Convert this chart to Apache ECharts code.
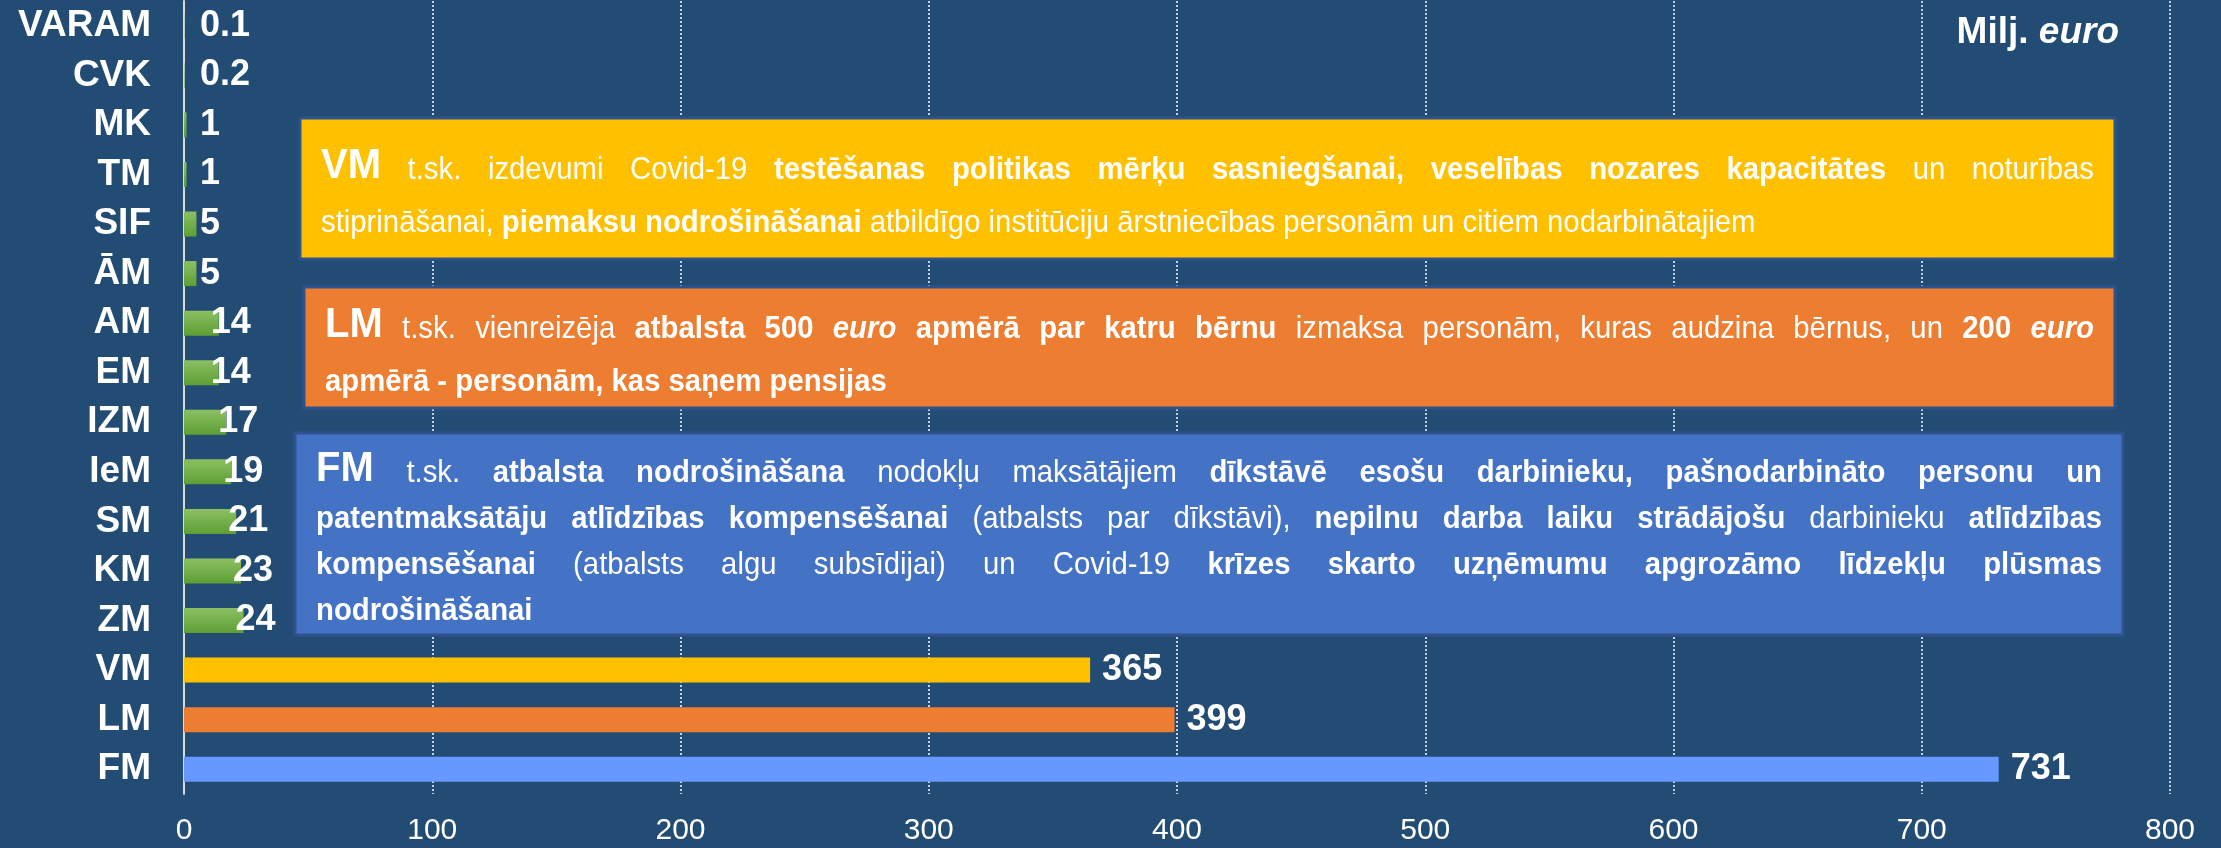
<!DOCTYPE html>
<html>
<head>
<meta charset="utf-8">
<script src="https://cdn.jsdelivr.net/npm/echarts@6/dist/echarts.min.js"></script>
<style>
html, body { margin: 0; padding: 0; background: #224C74; }
#chart { width: 2221px; height: 848px; }
</style>
</head>
<body>
<div id="chart"></div>
<script>
// ministrijas un summas, milj. euro
const categories = ['VARAM', 'CVK', 'MK', 'TM', 'SIF', 'ĀM', 'AM', 'EM', 'IZM', 'IeM', 'SM', 'KM', 'ZM', 'VM', 'LM', 'FM'];
const values = [0.1, 0.2, 1, 1, 5, 5, 14, 14, 17, 19, 21, 23, 24, 365, 399, 731];
const mainMinistries = ['VM', 'LM', 'FM'];
const xMin = 0, xMax = 800, xStep = 100;

// paskaidrojumu teksti: [stils, teksts]
const vmNote = [
  [['h', 'VM'], ['n', ' t.sk. izdevumi Covid-19 '], ['b', 'testēšanas politikas mērķu sasniegšanai, veselības nozares kapacitātes'], ['n', ' un noturības']],
  [['n', 'stiprināšanai, '], ['b', 'piemaksu nodrošināšanai'], ['n', ' atbildīgo institūciju ārstniecības personām un citiem nodarbinātajiem']]
];
const lmNote = [
  [['h', 'LM'], ['n', ' t.sk. vienreizēja '], ['b', 'atbalsta 500 '], ['bi', 'euro'], ['b', ' apmērā par katru bērnu'], ['n', ' izmaksa personām, kuras audzina bērnus, un '], ['b', '200 '], ['bi', 'euro']],
  [['b', 'apmērā - personām, kas saņem pensijas']]
];
const fmNote = [
  [['h', 'FM'], ['n', ' t.sk. '], ['b', 'atbalsta nodrošināšana'], ['n', ' nodokļu maksātājiem '], ['b', 'dīkstāvē esošu darbinieku, pašnodarbināto personu un']],
  [['b', 'patentmaksātāju atlīdzības kompensēšanai'], ['n', ' (atbalsts par dīkstāvi), '], ['b', 'nepilnu darba laiku strādājošu'], ['n', ' darbinieku '], ['b', 'atlīdzības']],
  [['b', 'kompensēšanai'], ['n', ' (atbalsts algu subsīdijai) un Covid-19 '], ['b', 'krīzes skarto uzņēmumu apgrozāmo līdzekļu plūsmas']],
  [['b', 'nodrošināšanai']]
];

const FONT = '"Liberation Sans", Arial, sans-serif';
const bodySize = 31.5, headSize = 43;
const squeeze = 0.93; // teksts kastēs ir nedaudz sašaurināts
const fonts = {
  h: 'bold ' + headSize + 'px ' + FONT,
  n: bodySize + 'px ' + FONT,
  b: 'bold ' + bodySize + 'px ' + FONT,
  bi: 'italic bold ' + bodySize + 'px ' + FONT
};

const barColors = { VM: '#FFC000', LM: '#ED7D31', FM: '#6699FF' };
const greenBar = new echarts.graphic.LinearGradient(0, 0, 0, 1, [
  { offset: 0, color: '#8CC063' },
  { offset: 1, color: '#5E9E34' }
]);

const boxes = [
  { note: vmNote, fill: '#FFC000', x: 300, y: 118, w: 1815, h: 141, lh: 53, justify: [true, false] },
  { note: lmNote, fill: '#ED7D31', x: 304, y: 287, w: 1811, h: 121, lh: 53, justify: [true, false] },
  { note: fmNote, fill: '#4472C4', x: 295, y: 433, w: 1828, h: 202, lh: 46, justify: [true, true, true, false] }
];
const pad = 21;
const textShift = 8;

// teksta platuma mērīšana izlīdzināšanai
const measureCtx = document.createElement('canvas').getContext('2d');
function textWidth(str, font) {
  measureCtx.font = font;
  return measureCtx.measureText(str).width * squeeze;
}

function buildLine(segments, left, width, y, justify) {
  const words = [];
  let cur = null;
  segments.forEach(([style, text]) => {
    text.split(' ').forEach((part, i) => {
      if (i > 0) cur = null;
      if (part === '') return;
      if (!cur) { cur = []; words.push(cur); }
      cur.push({ style, text: part, w: textWidth(part, fonts[style]) });
    });
  });
  const total = words.reduce((s, w) => s + w.reduce((a, c) => a + c.w, 0), 0);
  const gap = justify && words.length > 1 ? (width - total) / (words.length - 1) : textWidth(' ', fonts.n);
  const els = [];
  let x = left;
  words.forEach(word => {
    word.forEach(chunk => {
      els.push({
        type: 'text',
        x: x,
        y: chunk.style === 'h' ? y - (headSize - bodySize) * 0.3 : y,
        scaleX: squeeze,
        z: 20,
        style: {
          text: chunk.text,
          font: fonts[chunk.style],
          fill: '#fff',
          textAlign: 'left',
          textVerticalAlign: 'middle',
          align: 'left',
          verticalAlign: 'middle'
        }
      });
      x += chunk.w;
    });
    x += gap;
  });
  return els;
}

const graphics = [];
boxes.forEach(b => {
  graphics.push({
    type: 'rect',
    z: 10,
    shape: { x: b.x, y: b.y, width: b.w, height: b.h },
    style: { fill: b.fill, stroke: '#2F528F', lineWidth: 3 }
  });
  const n = b.note.length;
  const firstY = b.y + b.h / 2 - (n - 1) * b.lh / 2 + textShift;
  b.note.forEach((line, i) => {
    graphics.push(...buildLine(line, b.x + pad, b.w - 2 * pad, firstY + i * b.lh, b.justify[i]));
  });
});

const labelStyle = {
  show: true,
  position: 'right',
  color: '#fff',
  fontFamily: FONT,
  fontWeight: 'bold',
  fontSize: 36
};

const chart = echarts.init(document.getElementById('chart'));
chart.setOption({
  backgroundColor: '#224C74',
  animation: false,
  title: {
    text: '{a|Milj. }{b|euro}',
    right: 97,
    top: 9,
    textStyle: {
      rich: {
        a: { fontSize: 37, fontWeight: 'bold', color: '#fff', fontFamily: FONT },
        b: { fontSize: 37, fontWeight: 'bold', fontStyle: 'italic', color: '#fff', fontFamily: FONT }
      }
    }
  },
  grid: { left: 184, right: 51, top: 1, bottom: 54 },
  xAxis: {
    type: 'value',
    min: xMin,
    max: xMax,
    interval: xStep,
    axisLine: { show: false },
    axisTick: { show: false },
    axisLabel: { color: '#fff', fontFamily: FONT, fontSize: 30, margin: 22 },
    splitLine: { lineStyle: { color: 'rgba(225,232,240,0.85)', width: 2, type: [2, 2] } }
  },
  yAxis: {
    type: 'category',
    data: categories,
    inverse: true,
    axisLine: { lineStyle: { color: '#D9D9D9', width: 2 } },
    axisTick: { show: false },
    axisLabel: { color: '#fff', fontFamily: FONT, fontWeight: 'bold', fontSize: 37, margin: 33 }
  },
  series: [
    {
      name: 'Citas ministrijas',
      type: 'bar',
      barWidth: 25,
      data: values.map((v, i) => mainMinistries.includes(categories[i]) ? '-' : v),
      itemStyle: { color: greenBar },
      label: Object.assign({}, labelStyle, { distance: 5 }),
      // mazajām vērtībām etiķete sākas nedaudz pa labi no ass, lielākām - pārklāj stabiņa galu
      labelLayout: p => ({
        x: Math.max(p.rect.x + 16, p.rect.x + p.rect.width - 8),
        y: p.rect.y + p.rect.height / 2,
        align: 'left',
        verticalAlign: 'middle'
      })
    },
    {
      name: 'Galvenās ministrijas',
      type: 'bar',
      barWidth: 25,
      barGap: '-100%',
      data: values.map((v, i) => mainMinistries.includes(categories[i]) ? v : '-'),
      itemStyle: { color: p => barColors[p.name] },
      label: Object.assign({}, labelStyle, { distance: 12 })
    }
  ],
  graphic: { elements: graphics }
});
</script>
</body>
</html>
